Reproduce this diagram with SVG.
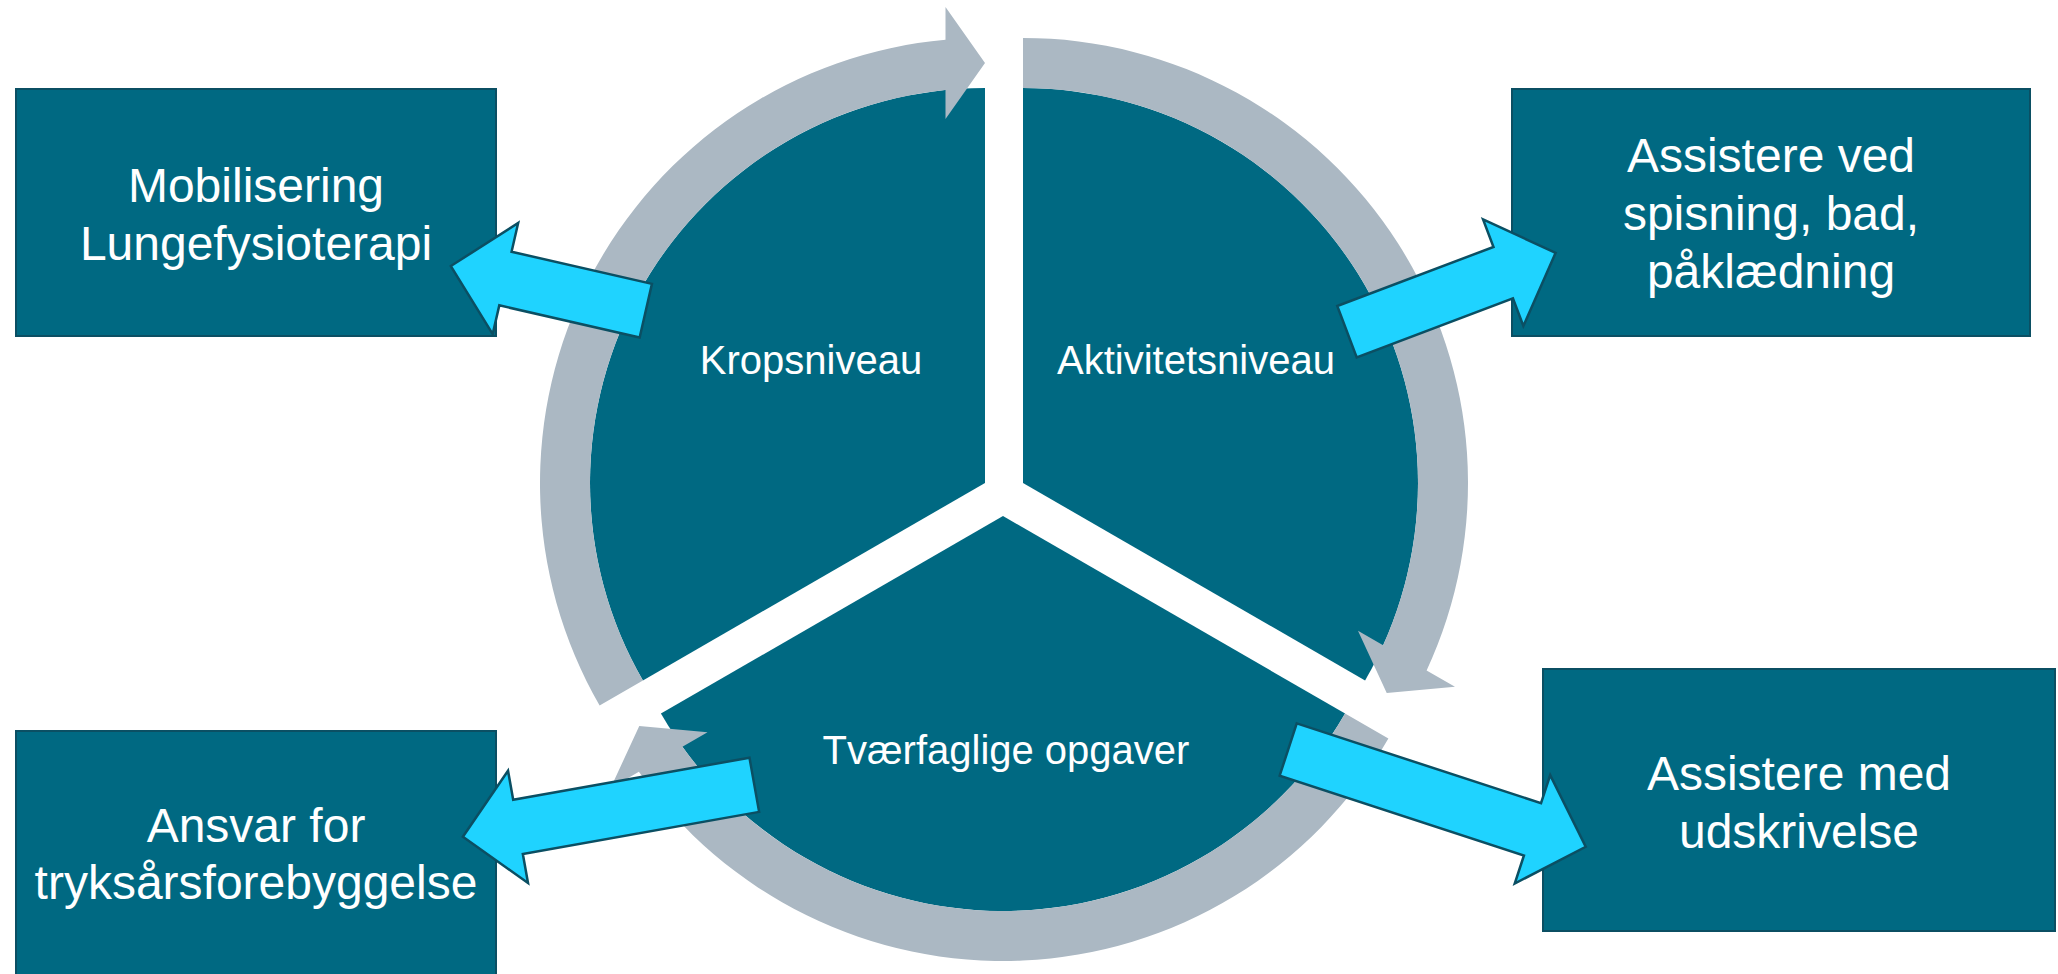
<svg xmlns="http://www.w3.org/2000/svg" width="2058" height="974" viewBox="0 0 2058 974">
<style>
.sector{fill:#006982;}
.ring{fill:#ABB8C3;}
.box{fill:#006982;stroke:#0B4F63;stroke-width:2;}
.arrow{fill:#1FD3FF;stroke:#0B4F63;stroke-width:2.5;stroke-linejoin:miter;}
.lbl{font-family:"Liberation Sans",Arial,sans-serif;fill:#FFFFFF;text-anchor:middle;}
.big{font-size:48px;}
.mid{font-size:40px;}
</style>
<rect width="2058" height="974" fill="#FFFFFF"/>
<g id="sector-krop">
<path class="sector" d="M985,483 L642.92,680.5 A395,395 0 0 1 985,88 Z"/>
<text class="lbl mid" x="811" y="374">Kropsniveau</text>
</g>
<g id="sector-aktivitet">
<path class="sector" d="M1023,483 L1023,88 A395,395 0 0 1 1365.08,680.5 Z"/>
<text class="lbl mid" x="1196" y="374">Aktivitetsniveau</text>
</g>
<g id="sector-tvaer">
<path class="sector" d="M1003,516 L1345.08,713.5 A395,395 0 0 1 660.92,713.5 Z"/>
<text class="lbl mid" x="1006" y="764">Tværfaglige opgaver</text>
</g>
<g id="cycle-arrows">
<path class="ring" d="M599.62,705.5 A445,445 0 0 1 945.5,39.76 L945.5,7 L985,63 L945.5,119 L945.5,89.98 A395,395 0 0 0 642.92,680.5 Z"/>
<path class="ring" d="M1023,38 A445,445 0 0 1 1426.61,670.41 L1454.98,686.79 L1386.73,693 L1357.98,630.79 L1383.12,645.3 A395,395 0 0 0 1023,88 Z"/>
<path class="ring" d="M1388.38,738.5 A445,445 0 0 1 638.89,771.83 L610.52,788.21 L639.27,726 L707.52,732.21 L682.38,746.72 A395,395 0 0 0 1345.08,713.5 Z"/>
</g>
<g id="box-mobilisering">
<rect class="box" x="16" y="89" width="480" height="247"/>
<text class="lbl big" x="256" y="202">Mobilisering</text>
<text class="lbl big" x="256" y="260">Lungefysioterapi</text>
</g>
<g id="box-assistere-ved">
<rect class="box" x="1512" y="89" width="518" height="247"/>
<text class="lbl big" x="1771" y="172">Assistere ved</text>
<text class="lbl big" x="1771" y="230">spisning, bad,</text>
<text class="lbl big" x="1771" y="288">påklædning</text>
</g>
<g id="box-ansvar">
<rect class="box" x="16" y="731" width="480" height="250"/>
<text class="lbl big" x="256" y="842">Ansvar for</text>
<text class="lbl big" x="256" y="899">tryksårsforebyggelse</text>
</g>
<g id="box-udskrivelse">
<rect class="box" x="1543" y="669" width="512" height="262"/>
<text class="lbl big" x="1799" y="790">Assistere med</text>
<text class="lbl big" x="1799" y="848">udskrivelse</text>
</g>
<g id="connectors">
<path class="arrow" transform="translate(645.8,310.7) rotate(192.9)" d="M0,-27.5 H144 V-57 L200,0 L144,57 V27.5 H0 Z"/>
<path class="arrow" transform="translate(1347,331.7) rotate(-20.7)" d="M0,-27.5 H167 V-57 L223,0 L167,57 V27.5 H0 Z"/>
<path class="arrow" transform="translate(754.3,784.8) rotate(169.9)" d="M0,-27.5 H240 V-57 L296,0 L240,57 V27.5 H0 Z"/>
<path class="arrow" transform="translate(1288.2,749.5) rotate(18.1)" d="M0,-27.5 H257 V-57 L313,0 L257,57 V27.5 H0 Z"/>
</g>
</svg>
